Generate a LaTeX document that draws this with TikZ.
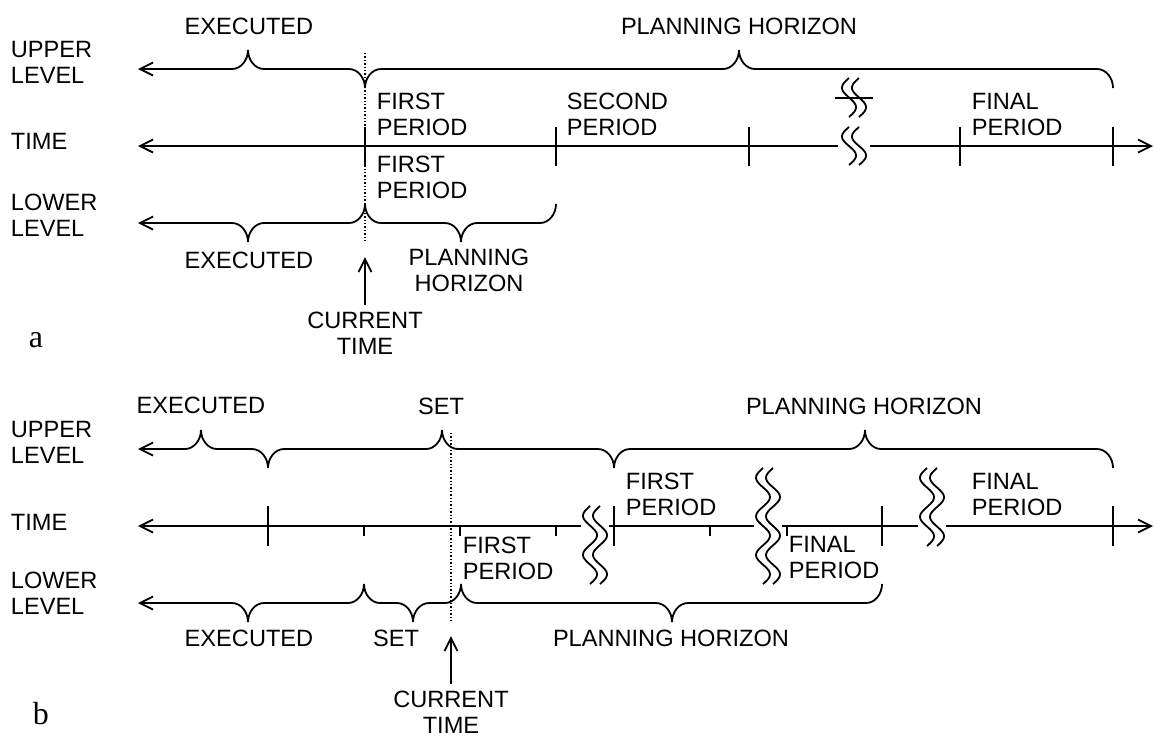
\documentclass[tikz,border=0pt]{standalone}
\usepackage{fontspec}
\setmainfont{Liberation Sans}
\newfontfamily\tagfont{Liberation Serif}
\usetikzlibrary{arrows.meta}
\tikzset{
    lbl/.style={inner sep=0pt, align=left, font=\fontsize{11.8}{13.25}\selectfont},
    tag/.style={inner sep=0pt, font=\tagfont\fontsize{16}{18}\selectfont},
    arrow/.style={->, line width=0.9pt, shorten <=3pt},
    now/.style={line width=0.7pt, dash pattern=on 0.7pt off 1pt}
}
% brace pieces along a level line: #1 = x of the point, #2 = y of the line
\newcommand{\brup}[2]{-- ({#1-16},#2) .. controls ({#1-7},#2) and (#1,{#2-9}) .. (#1,{#2-19}) .. controls (#1,{#2-9}) and ({#1+7},#2) .. ({#1+16},#2)}
\newcommand{\brdown}[2]{-- ({#1-16},#2) .. controls ({#1-7},#2) and (#1,{#2+9}) .. (#1,{#2+19}) .. controls (#1,{#2+9}) and ({#1+7},#2) .. ({#1+16},#2)}
\newcommand{\brendup}[2]{-- ({#1-16},#2) .. controls ({#1-7},#2) and (#1,{#2-9}) .. (#1,{#2-19})}
\newcommand{\brenddown}[2]{-- ({#1-16},#2) .. controls ({#1-7},#2) and (#1,{#2+9}) .. (#1,{#2+19})}
% break mark: x, top, bottom, number of waves
\newcommand{\wavy}[4]{\foreach \dx in {-5,5}
    \draw plot[domain=#2:#3, samples=61, smooth] ({#1+\dx-7*sin(((\x-#2)/(#3-#2))*360*#4)},\x);}

\begin{document}
\begin{tikzpicture}[x=0.5pt, y=-0.5pt, line width=0.9pt,
    >={Straight Barb[length=6.5pt,width=6.5pt]}]
    \useasboundingbox (0,0) rectangle (1154,736);

    % (a)
    \node[lbl, anchor=north west] (upA) at (10,40) {UPPER\\LEVEL};
    \node[lbl, anchor=north west] (timeA) at (10,132) {TIME};
    \node[lbl, anchor=north west] (lowA) at (10,193) {LOWER\\LEVEL};
    \node[lbl, anchor=north] (exUpA) at (249,17) {EXECUTED};
    \node[lbl, anchor=north] (phUpA) at (739,17) {PLANNING HORIZON};
    \node[lbl, anchor=north west] (fpUpA) at (376,92) {FIRST\\PERIOD};
    \node[lbl, anchor=north west] (spA) at (566,92) {SECOND\\PERIOD};
    \node[lbl, anchor=north west] (finA) at (971,92) {FINAL\\PERIOD};
    \node[lbl, anchor=north west] (fpLowA) at (376,155) {FIRST\\PERIOD};
    \node[lbl, anchor=north] (exLowA) at (249,251) {EXECUTED};
    \node[lbl, anchor=north, align=center] (phLowA) at (469,248) {PLANNING\\HORIZON};
    \node[lbl, anchor=north, align=center] (curA) at (365,311) {CURRENT\\TIME};
    \node[tag, anchor=base west] (tagA) at (28,347) {a};
    \coordinate (nowA) at (365,257);

    \draw[<-] (138,69) \brup{248}{69} \brdown{365}{69} \brup{739}{69} \brenddown{1113}{69};
    \draw[<-] (138,223) \brdown{248}{223} \brup{365}{223} \brdown{461}{223} \brendup{556}{223};
    \draw[<-] (138,146) -- (838,146);
    \draw[->] (870,146) -- (1153,146);
    \foreach \x in {365,556,749,960,1113}
        \draw (\x,127) -- (\x,166);
    \draw (835,98) -- (873,98);
    \wavy{854}{78}{117}{1}
    \wavy{854}{127}{165}{1}
    \draw[now] (365,53) -- (365,243);
    \draw[arrow] (curA) -- (nowA);

    % (b)
    \node[lbl, anchor=north west] (upB) at (10,420) {UPPER\\LEVEL};
    \node[lbl, anchor=north west] (timeB) at (10,513) {TIME};
    \node[lbl, anchor=north west] (lowB) at (10,571) {LOWER\\LEVEL};
    \node[lbl, anchor=north] (exUpB) at (201,396) {EXECUTED};
    \node[lbl, anchor=north] (setUpB) at (441,397) {SET};
    \node[lbl, anchor=north] (phUpB) at (864,397) {PLANNING HORIZON};
    \node[lbl, anchor=north west] (fpUpB) at (625,472) {FIRST\\PERIOD};
    \node[lbl, anchor=north west] (finUpB) at (971,472) {FINAL\\PERIOD};
    \node[lbl, anchor=north west] (fpLowB) at (462,536) {FIRST\\PERIOD};
    \node[lbl, anchor=north west] (finLowB) at (788,535) {FINAL\\PERIOD};
    \node[lbl, anchor=north] (exLowB) at (249,629) {EXECUTED};
    \node[lbl, anchor=north] (setLowB) at (396,629) {SET};
    \node[lbl, anchor=north] (phLowB) at (671,629) {PLANNING HORIZON};
    \node[lbl, anchor=north, align=center] (curB) at (451,690) {CURRENT\\TIME};
    \node[tag, anchor=base west] (tagB) at (32,724) {b};
    \coordinate (nowB) at (451,636);

    \draw[<-] (138,449) \brup{201}{449} \brdown{268}{449} \brup{442}{449} \brdown{614}{449} \brup{865}{449} \brenddown{1113}{449};
    \draw[<-] (138,603) \brdown{248}{603} \brup{364}{603} \brdown{413}{603} \brup{461}{603} \brdown{672}{603} \brendup{882}{603};
    \draw[<-] (138,526) -- (581,526);
    \draw (609,526) -- (754,526);
    \draw (782,526) -- (918,526);
    \draw[->] (946,526) -- (1153,526);
    \foreach \x in {268,614,882,1113}
        \draw (\x,506) -- (\x,546);
    \foreach \x in {364,460,556,710,787}
        \draw (\x,526) -- (\x,536);
    \wavy{595}{506}{584}{2}
    \wavy{768}{468}{584}{3}
    \wavy{932}{468}{546}{2}
    \draw[now] (451,433) -- (451,623);
    \draw[arrow] (curB) -- (nowB);
\end{tikzpicture}
\end{document}
